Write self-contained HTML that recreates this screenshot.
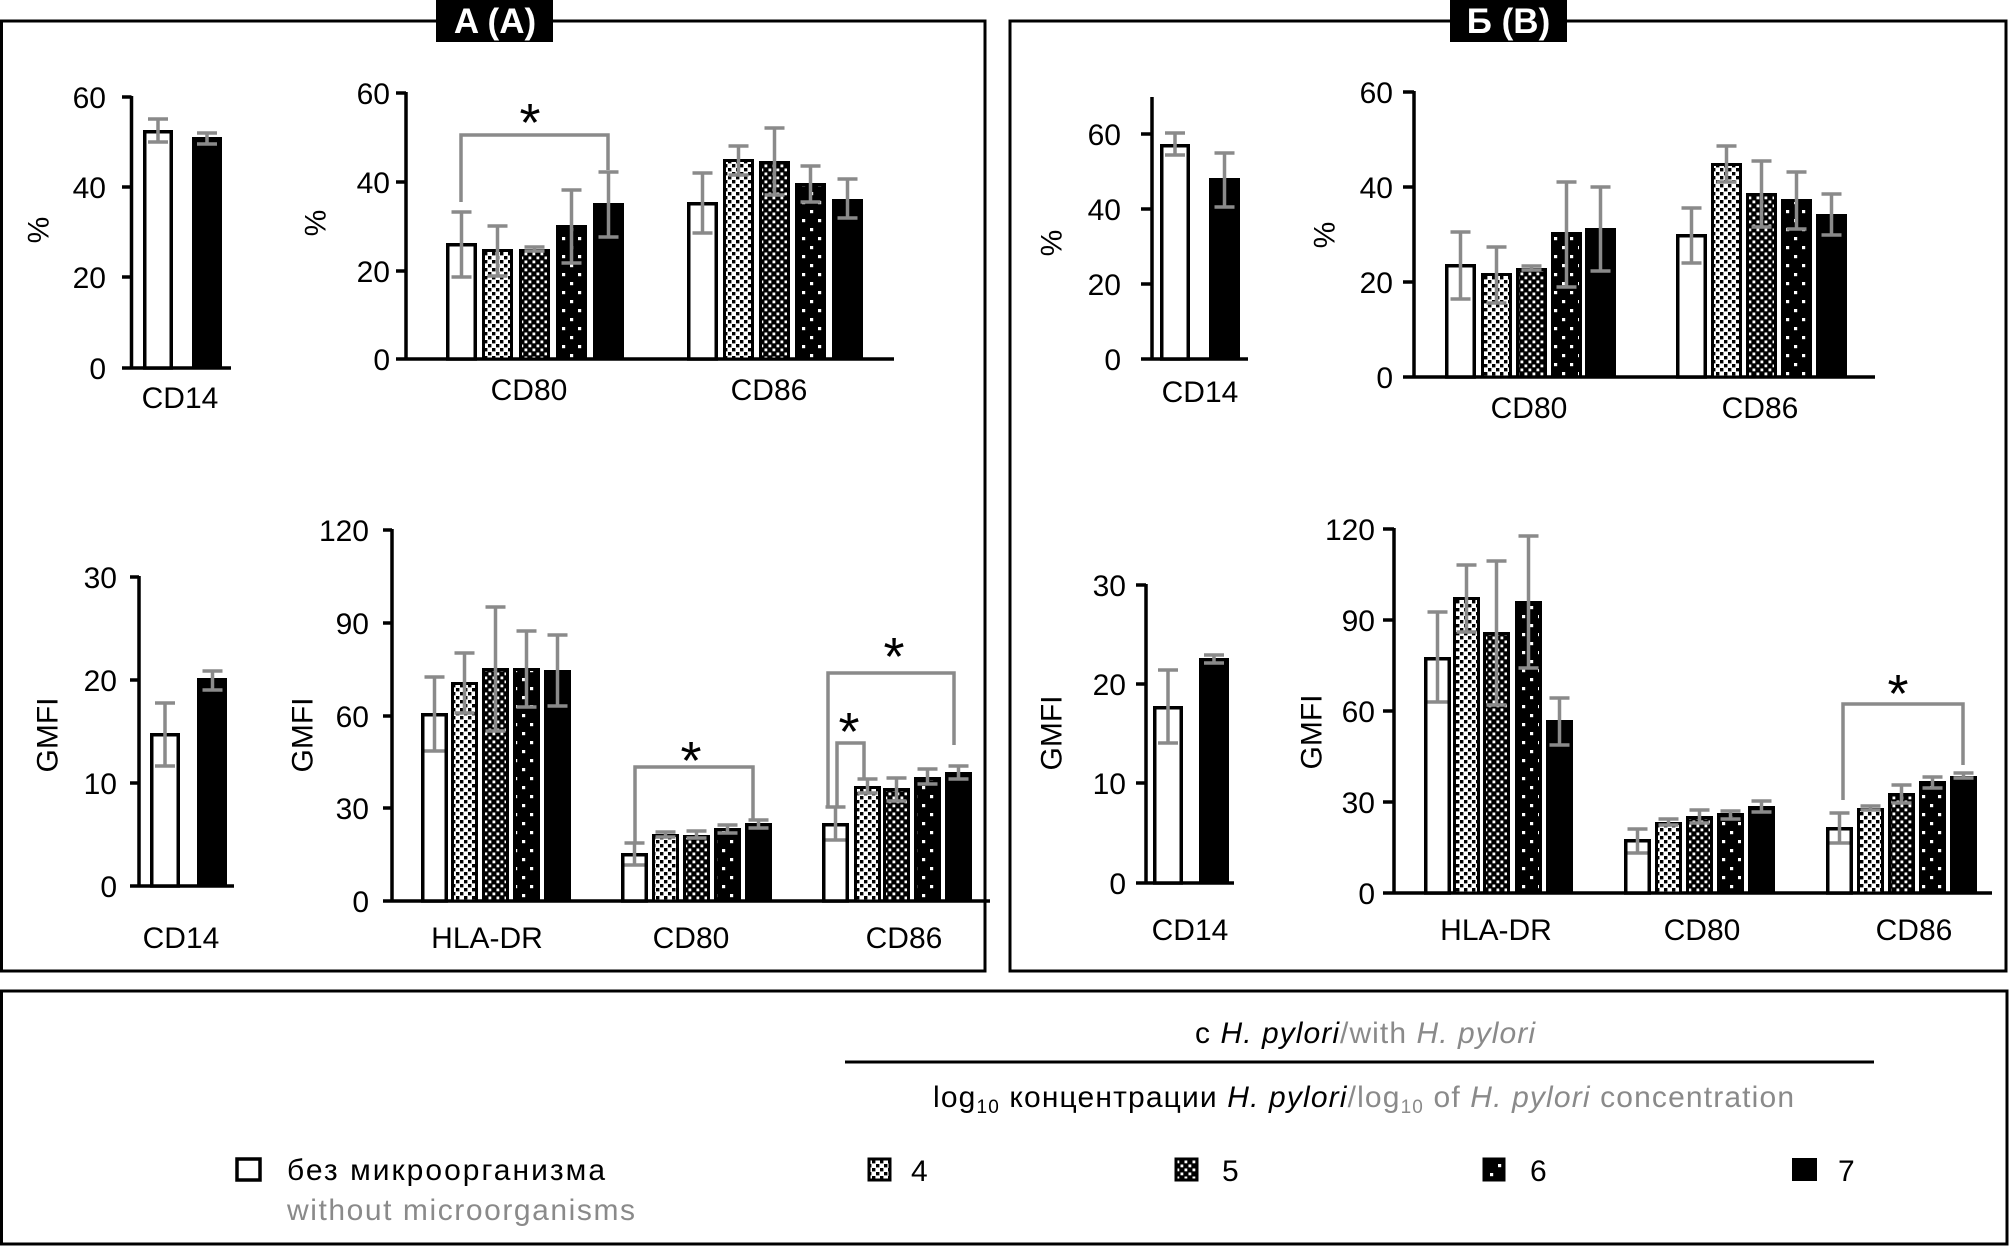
<!DOCTYPE html>
<html><head><meta charset="utf-8">
<style>
html,body{margin:0;padding:0;background:#fff;}
svg{display:block;}
text{font-family:"Liberation Sans","DejaVu Sans",sans-serif;fill:#000;}
.t{font-size:30px;}
.tl{font-size:30px;text-anchor:end;}
.c{font-size:30px;text-anchor:middle;}
.st{font-size:54px;text-anchor:middle;}
.ax{stroke:#000;stroke-width:3.5;fill:none;}
.bw{fill:#fff;stroke:#000;stroke-width:3.5;}
.b4{fill:url(#p4);stroke:#000;stroke-width:3;}
.b5{fill:url(#p5);stroke:#000;stroke-width:3;}
.b6{fill:url(#p6);stroke:#000;stroke-width:3;}
.bk{fill:#000;stroke:#000;stroke-width:3;}
.e{stroke:#8a8a8a;stroke-width:3.5;fill:none;}
.br{stroke:#8a8a8a;stroke-width:3.5;fill:none;}
.fr{stroke:#000;stroke-width:3;fill:none;}
</style></head>
<body>
<svg width="2011" height="1246" viewBox="0 0 2011 1246" xmlns="http://www.w3.org/2000/svg">
<defs>
<pattern id="p4" width="8" height="8" patternUnits="userSpaceOnUse"><rect width="8" height="8" fill="#fff"/><rect width="3.4" height="3.4" fill="#000"/><rect x="4" y="4" width="3.4" height="3.4" fill="#000"/></pattern>
<pattern id="p5" width="8" height="8" patternUnits="userSpaceOnUse"><rect width="8" height="8" fill="#000"/><rect x="0.5" y="0.5" width="2.8" height="2.8" fill="#fff"/><rect x="4.5" y="4.5" width="2.8" height="2.8" fill="#fff"/></pattern>
<pattern id="p6" width="16" height="18" patternUnits="userSpaceOnUse"><rect width="16" height="18" fill="#000"/><rect x="2" y="3" width="3.2" height="3.2" fill="#fff"/><rect x="10" y="12" width="3.2" height="3.2" fill="#fff"/></pattern>
</defs>
<rect width="2011" height="1246" fill="#fff"/>

<!-- Frames -->
<rect class="fr" x="1.5" y="21" width="983.5" height="950"/>
<rect class="fr" x="1010" y="21" width="996" height="950"/>
<rect class="fr" x="1.5" y="991" width="2005.5" height="253"/>
<rect x="436" y="0" width="117" height="42" fill="#000"/>
<text x="495" y="33" font-size="35" font-weight="bold" text-anchor="middle" style="fill:#fff">A (A)</text>
<rect x="1450" y="0" width="117" height="42" fill="#000"/>
<text x="1508.5" y="33" font-size="35" font-weight="bold" text-anchor="middle" style="fill:#fff">Б (B)</text>

<!-- ============ A1: CD14 % ============ -->
<path class="ax" d="M131.5 96V368M122 97H131.5M122 187H131.5M122 277H131.5M122 368H231"/>
<text class="tl" x="106" y="108">60</text>
<text class="tl" x="106" y="198">40</text>
<text class="tl" x="106" y="288">20</text>
<text class="tl" x="106" y="379">0</text>
<text class="c" transform="translate(39,230) rotate(-90)" dominant-baseline="central">%</text>
<rect class="bw" x="144.75" y="131.75" width="26.5" height="236.25"/>
<rect class="bk" x="193.5" y="138.5" width="27" height="229.5"/>
<path class="e" d="M158 119V142M148 119H168M148 142H168"/>
<path class="e" d="M207 133V144M197 133H217M197 144H217"/>
<text class="c" x="180" y="408">CD14</text>

<!-- ============ A2: CD80/CD86 % ============ -->
<path class="ax" d="M406 92V359M396 93H406M396 182H406M396 271H406M396 359H894"/>
<text class="tl" x="390" y="104">60</text>
<text class="tl" x="390" y="193">40</text>
<text class="tl" x="390" y="282">20</text>
<text class="tl" x="390" y="370">0</text>
<text class="c" transform="translate(316,223) rotate(-90)" dominant-baseline="central">%</text>
<rect class="bw" x="447.75" y="244.75" width="27.5" height="114.25"/>
<rect class="b4" x="483.5" y="250.5" width="28" height="108.5"/>
<rect class="b5" x="520.5" y="250.5" width="28" height="108.5"/>
<rect class="b6" x="557.5" y="226.5" width="28" height="132.5"/>
<rect class="bk" x="594.5" y="204.5" width="28" height="154.5"/>
<rect class="bw" x="688.75" y="203.75" width="27.5" height="155.25"/>
<rect class="b4" x="724.5" y="160.5" width="28" height="198.5"/>
<rect class="b5" x="760.5" y="162.5" width="28" height="196.5"/>
<rect class="b6" x="796.5" y="184.5" width="28" height="174.5"/>
<rect class="bk" x="833.5" y="200.5" width="28" height="158.5"/>
<path class="e" d="M461.5 212V277M451.5 212H471.5M451.5 277H471.5"/>
<path class="e" d="M497.5 226V276M487.5 226H507.5M487.5 276H507.5"/>
<path class="e" d="M534.5 247V251M524.5 247H544.5M524.5 251H544.5"/>
<path class="e" d="M571.5 190V263M561.5 190H581.5M561.5 263H581.5"/>
<path class="e" d="M608.5 172V237M598.5 172H618.5M598.5 237H618.5"/>
<path class="e" d="M702.5 173V233M692.5 173H712.5M692.5 233H712.5"/>
<path class="e" d="M738.5 146V175M728.5 146H748.5M728.5 175H748.5"/>
<path class="e" d="M774.5 128V195M764.5 128H784.5M764.5 195H784.5"/>
<path class="e" d="M810.5 166V202M800.5 166H820.5M800.5 202H820.5"/>
<path class="e" d="M847.5 179V218M837.5 179H857.5M837.5 218H857.5"/>
<path class="br" d="M461 202V135H608V170"/>
<text class="st" x="530" y="141">*</text>
<text class="c" x="529" y="400">CD80</text>
<text class="c" x="769" y="400">CD86</text>

<!-- ============ A3: CD14 GMFI ============ -->
<path class="ax" d="M139 576V886M130 577H139M130 680H139M130 783H139M130 886H234"/>
<text class="tl" x="117" y="588">30</text>
<text class="tl" x="117" y="691">20</text>
<text class="tl" x="117" y="794">10</text>
<text class="tl" x="117" y="897">0</text>
<text class="c" transform="translate(48,735) rotate(-90)" dominant-baseline="central">GMFI</text>
<rect class="bw" x="151.75" y="734.75" width="26.5" height="151.25"/>
<rect class="bk" x="198.5" y="679.5" width="27" height="206.5"/>
<path class="e" d="M165 703V766M155 703H175M155 766H175"/>
<path class="e" d="M212.5 671V690M202.5 671H222.5M202.5 690H222.5"/>
<text class="c" x="181" y="948">CD14</text>

<!-- ============ A4: GMFI ============ -->
<path class="ax" d="M392 529V901M383 530H392M383 623H392M383 716H392M383 808H392M383 901H990"/>
<text class="tl" x="369" y="541">120</text>
<text class="tl" x="369" y="634">90</text>
<text class="tl" x="369" y="727">60</text>
<text class="tl" x="369" y="819">30</text>
<text class="tl" x="369" y="912">0</text>
<text class="c" transform="translate(303,735) rotate(-90)" dominant-baseline="central">GMFI</text>
<!-- HLA-DR -->
<rect class="bw" x="422.75" y="714.75" width="23.5" height="186.25"/>
<rect class="b4" x="452.5" y="683.5" width="24" height="217.5"/>
<rect class="b5" x="483.5" y="669.5" width="24" height="231.5"/>
<rect class="b6" x="514.5" y="669.5" width="24" height="231.5"/>
<rect class="bk" x="545.5" y="671.5" width="24" height="229.5"/>
<path class="e" d="M434.5 677V751M424.5 677H444.5M424.5 751H444.5"/>
<path class="e" d="M464.5 653V713M454.5 653H474.5M454.5 713H474.5"/>
<path class="e" d="M495.5 607V731M485.5 607H505.5M485.5 731H505.5"/>
<path class="e" d="M526.5 631V707M516.5 631H536.5M516.5 707H536.5"/>
<path class="e" d="M557.5 635V706M547.5 635H567.5M547.5 706H567.5"/>
<!-- CD80 -->
<rect class="bw" x="622.75" y="854.75" width="23.5" height="46.25"/>
<rect class="b4" x="653.5" y="835.5" width="24" height="65.5"/>
<rect class="b5" x="684.5" y="836.5" width="24" height="64.5"/>
<rect class="b6" x="715.5" y="829.5" width="24" height="71.5"/>
<rect class="bk" x="746.5" y="824.5" width="24" height="76.5"/>
<path class="e" d="M634.5 843V865M624.5 843H644.5M624.5 865H644.5"/>
<path class="e" d="M665.5 832V837M655.5 832H675.5M655.5 837H675.5"/>
<path class="e" d="M696.5 831V838M686.5 831H706.5M686.5 838H706.5"/>
<path class="e" d="M727.5 825V833M717.5 825H737.5M717.5 833H737.5"/>
<path class="e" d="M758.5 820V828M748.5 820H768.5M748.5 828H768.5"/>
<!-- CD86 -->
<rect class="bw" x="823.75" y="824.75" width="23.5" height="76.25"/>
<rect class="b4" x="855.5" y="787.5" width="24" height="113.5"/>
<rect class="b5" x="884.5" y="789.5" width="24" height="111.5"/>
<rect class="b6" x="915.5" y="778.5" width="24" height="122.5"/>
<rect class="bk" x="946.5" y="773.5" width="24" height="127.5"/>
<path class="e" d="M835.5 807V840M825.5 807H845.5M825.5 840H845.5"/>
<path class="e" d="M867.5 779V793M857.5 779H877.5M857.5 793H877.5"/>
<path class="e" d="M896.5 778V801M886.5 778H906.5M886.5 801H906.5"/>
<path class="e" d="M927.5 769V784M917.5 769H937.5M917.5 784H937.5"/>
<path class="e" d="M958.5 766V779M948.5 766H968.5M948.5 779H968.5"/>
<path class="br" d="M635 842V767H753V820"/>
<text class="st" x="691" y="779">*</text>
<path class="br" d="M828 808V673H954V745"/>
<text class="st" x="894" y="675">*</text>
<path class="br" d="M837 808V743H864V780"/>
<text class="st" x="849" y="750">*</text>
<text class="c" x="487" y="948">HLA-DR</text>
<text class="c" x="691" y="948">CD80</text>
<text class="c" x="904" y="948">CD86</text>

<!-- ============ B1: CD14 % ============ -->
<path class="ax" d="M1152 97V359M1141 134H1152M1141 209H1152M1141 284H1152M1141 359H1248"/>
<text class="tl" x="1121" y="145">60</text>
<text class="tl" x="1121" y="220">40</text>
<text class="tl" x="1121" y="295">20</text>
<text class="tl" x="1121" y="370">0</text>
<text class="c" transform="translate(1052,243) rotate(-90)" dominant-baseline="central">%</text>
<rect class="bw" x="1161.75" y="145.75" width="26.5" height="213.25"/>
<rect class="bk" x="1210.5" y="179.5" width="28" height="179.5"/>
<path class="e" d="M1175 133V155M1165 133H1185M1165 155H1185"/>
<path class="e" d="M1224.5 153V207M1214.5 153H1234.5M1214.5 207H1234.5"/>
<text class="c" x="1200" y="402">CD14</text>

<!-- ============ B2: CD80/CD86 % ============ -->
<path class="ax" d="M1414 91V377M1403 92H1414M1403 187H1414M1403 282H1414M1403 377H1875"/>
<text class="tl" x="1393" y="103">60</text>
<text class="tl" x="1393" y="198">40</text>
<text class="tl" x="1393" y="293">20</text>
<text class="tl" x="1393" y="388">0</text>
<text class="c" transform="translate(1325,235) rotate(-90)" dominant-baseline="central">%</text>
<rect class="bw" x="1446.75" y="265.75" width="27.5" height="111.25"/>
<rect class="b4" x="1482.5" y="274.5" width="28" height="102.5"/>
<rect class="b5" x="1517.5" y="269.5" width="28" height="107.5"/>
<rect class="b6" x="1552.5" y="233.5" width="28" height="143.5"/>
<rect class="bk" x="1586.5" y="229.5" width="28" height="147.5"/>
<rect class="bw" x="1677.75" y="235.75" width="27.5" height="141.25"/>
<rect class="b4" x="1712.5" y="164.5" width="28" height="212.5"/>
<rect class="b5" x="1747.5" y="194.5" width="28" height="182.5"/>
<rect class="b6" x="1782.5" y="200.5" width="28" height="176.5"/>
<rect class="bk" x="1817.5" y="215.5" width="28" height="161.5"/>
<path class="e" d="M1460.5 232V299M1450.5 232H1470.5M1450.5 299H1470.5"/>
<path class="e" d="M1496.5 247V303M1486.5 247H1506.5M1486.5 303H1506.5"/>
<path class="e" d="M1531.5 266V270M1521.5 266H1541.5M1521.5 270H1541.5"/>
<path class="e" d="M1566.5 182V287M1556.5 182H1576.5M1556.5 287H1576.5"/>
<path class="e" d="M1600.5 187V271M1590.5 187H1610.5M1590.5 271H1610.5"/>
<path class="e" d="M1691.5 208V263M1681.5 208H1701.5M1681.5 263H1701.5"/>
<path class="e" d="M1726.5 146V182M1716.5 146H1736.5M1716.5 182H1736.5"/>
<path class="e" d="M1761.5 161V227M1751.5 161H1771.5M1751.5 227H1771.5"/>
<path class="e" d="M1796.5 172V229M1786.5 172H1806.5M1786.5 229H1806.5"/>
<path class="e" d="M1831.5 194V235M1821.5 194H1841.5M1821.5 235H1841.5"/>
<text class="c" x="1529" y="418">CD80</text>
<text class="c" x="1760" y="418">CD86</text>

<!-- ============ B3: CD14 GMFI ============ -->
<path class="ax" d="M1146 584V883M1136 585H1146M1136 684H1146M1136 783H1146M1136 883H1234"/>
<text class="tl" x="1126" y="596">30</text>
<text class="tl" x="1126" y="695">20</text>
<text class="tl" x="1126" y="794">10</text>
<text class="tl" x="1126" y="894">0</text>
<text class="c" transform="translate(1052,733) rotate(-90)" dominant-baseline="central">GMFI</text>
<rect class="bw" x="1154.75" y="707.75" width="26.5" height="175.25"/>
<rect class="bk" x="1200.5" y="659.5" width="27" height="223.5"/>
<path class="e" d="M1168 670V743M1158 670H1178M1158 743H1178"/>
<path class="e" d="M1214 655V663M1204 655H1224M1204 663H1224"/>
<text class="c" x="1190" y="940">CD14</text>

<!-- ============ B4: GMFI ============ -->
<path class="ax" d="M1394 528V893M1383 529H1394M1383 620H1394M1383 711H1394M1383 802H1394M1383 893H1992"/>
<text class="tl" x="1375" y="540">120</text>
<text class="tl" x="1375" y="631">90</text>
<text class="tl" x="1375" y="722">60</text>
<text class="tl" x="1375" y="813">30</text>
<text class="tl" x="1375" y="904">0</text>
<text class="c" transform="translate(1312,732) rotate(-90)" dominant-baseline="central">GMFI</text>
<!-- HLA-DR -->
<rect class="bw" x="1425.75" y="658.75" width="23.5" height="234.25"/>
<rect class="b4" x="1454.5" y="598.5" width="24" height="294.5"/>
<rect class="b5" x="1484.5" y="633.5" width="24" height="259.5"/>
<rect class="b6" x="1516.5" y="602.5" width="24" height="290.5"/>
<rect class="bk" x="1547.5" y="721.5" width="24" height="171.5"/>
<path class="e" d="M1437.5 612V702M1427.5 612H1447.5M1427.5 702H1447.5"/>
<path class="e" d="M1466.5 565V632M1456.5 565H1476.5M1456.5 632H1476.5"/>
<path class="e" d="M1496.5 561V705M1486.5 561H1506.5M1486.5 705H1506.5"/>
<path class="e" d="M1528.5 536V668M1518.5 536H1538.5M1518.5 668H1538.5"/>
<path class="e" d="M1559.5 698V745M1549.5 698H1569.5M1549.5 745H1569.5"/>
<!-- CD80 -->
<rect class="bw" x="1625.75" y="840.75" width="23.5" height="52.25"/>
<rect class="b4" x="1656.5" y="823.5" width="24" height="69.5"/>
<rect class="b5" x="1687.5" y="817.5" width="24" height="75.5"/>
<rect class="b6" x="1718.5" y="814.5" width="24" height="78.5"/>
<rect class="bk" x="1749.5" y="807.5" width="24" height="85.5"/>
<path class="e" d="M1637.5 829V853M1627.5 829H1647.5M1627.5 853H1647.5"/>
<path class="e" d="M1668.5 819V825M1658.5 819H1678.5M1658.5 825H1678.5"/>
<path class="e" d="M1699.5 810V823M1689.5 810H1709.5M1689.5 823H1709.5"/>
<path class="e" d="M1730.5 811V819M1720.5 811H1740.5M1720.5 819H1740.5"/>
<path class="e" d="M1761.5 801V812M1751.5 801H1771.5M1751.5 812H1771.5"/>
<!-- CD86 -->
<rect class="bw" x="1827.75" y="828.75" width="23.5" height="64.25"/>
<rect class="b4" x="1858.5" y="809.5" width="24" height="83.5"/>
<rect class="b5" x="1889.5" y="794.5" width="24" height="98.5"/>
<rect class="b6" x="1920.5" y="782.5" width="24" height="110.5"/>
<rect class="bk" x="1951.5" y="777.5" width="24" height="115.5"/>
<path class="e" d="M1839.5 813V843M1829.5 813H1849.5M1829.5 843H1849.5"/>
<path class="e" d="M1870.5 806V810M1860.5 806H1880.5M1860.5 810H1880.5"/>
<path class="e" d="M1901.5 785V803M1891.5 785H1911.5M1891.5 803H1911.5"/>
<path class="e" d="M1932.5 777V788M1922.5 777H1942.5M1922.5 788H1942.5"/>
<path class="e" d="M1963.5 773V778M1953.5 773H1973.5M1953.5 778H1973.5"/>
<path class="br" d="M1843 800V704H1963V765"/>
<text class="st" x="1898" y="712">*</text>
<text class="c" x="1496" y="940">HLA-DR</text>
<text class="c" x="1702" y="940">CD80</text>
<text class="c" x="1914" y="940">CD86</text>

<!-- ============ Legend ============ -->
<text class="t" x="1195" y="1043" textLength="340">с <tspan font-style="italic">H. pylori</tspan><tspan style="fill:#8a8a8a">/with </tspan><tspan style="fill:#8a8a8a" font-style="italic">H. pylori</tspan></text>
<line x1="845" y1="1062" x2="1874" y2="1062" stroke="#000" stroke-width="3"/>
<text class="t" x="933" y="1107" textLength="861">log<tspan font-size="19" dy="6">10</tspan><tspan dy="-6"> концентрации </tspan><tspan font-style="italic">H. pylori</tspan><tspan style="fill:#8a8a8a">/log</tspan><tspan style="fill:#8a8a8a" font-size="19" dy="6">10</tspan><tspan style="fill:#8a8a8a" dy="-6"> of </tspan><tspan style="fill:#8a8a8a" font-style="italic">H. pylori</tspan><tspan style="fill:#8a8a8a"> concentration</tspan></text>

<rect x="237" y="1159" width="23" height="21" fill="#fff" stroke="#000" stroke-width="3.5"/>
<text class="t" x="287" y="1180" textLength="318">без микроорганизма</text>
<text class="t" x="287" y="1220" textLength="348" style="fill:#8a8a8a">without microorganisms</text>

<rect x="869" y="1159" width="21" height="21" fill="url(#p4)" stroke="#000" stroke-width="3"/>
<text class="t" x="911" y="1181">4</text>
<rect x="1176" y="1159" width="21" height="21" fill="url(#p5)" stroke="#000" stroke-width="3"/>
<text class="t" x="1222" y="1181">5</text>
<rect x="1484" y="1159" width="20" height="21" fill="url(#p6)" stroke="#000" stroke-width="3"/>
<text class="t" x="1530" y="1181">6</text>
<rect x="1792" y="1158" width="25" height="23" fill="#000"/>
<text class="t" x="1838" y="1181">7</text>
</svg>
</body></html>
